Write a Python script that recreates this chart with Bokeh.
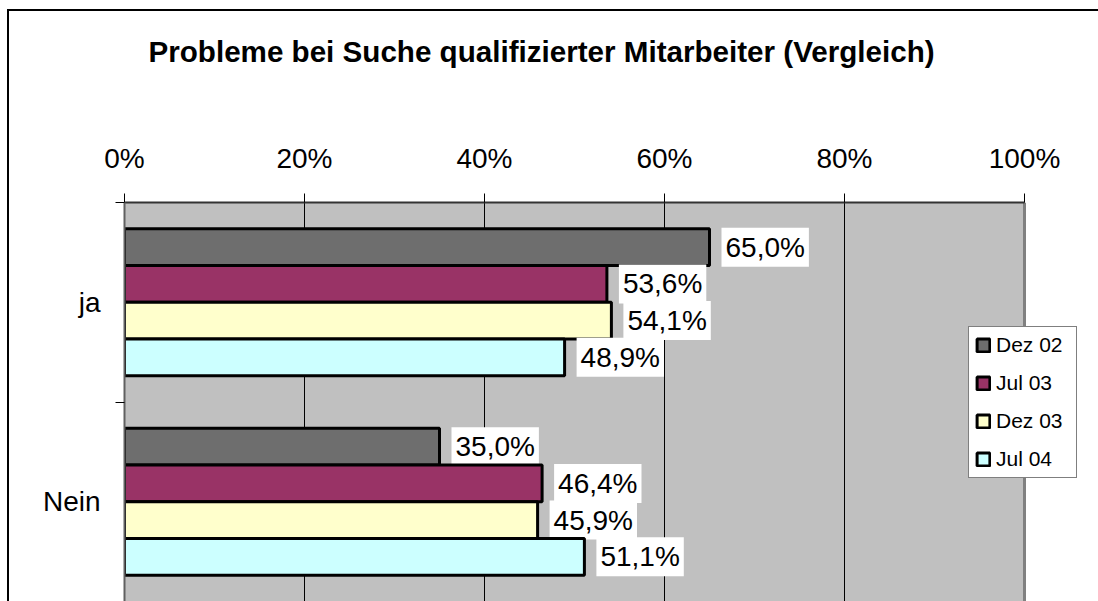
from bokeh.plotting import figure
from bokeh.models import (Range1d, FixedTicker, NumeralTickFormatter, Legend,
                          LegendItem, BoxAnnotation, Span)
from bokeh.core.properties import value
from bokeh.embed import file_html
from bokeh.resources import INLINE

# ---- data ----
categories = ["ja", "Nein"]
series = ["Dez 02", "Jul 03", "Dez 03", "Jul 04"]
dez02 = [65.0, 35.0]
jul03 = [53.6, 46.4]
dez03 = [54.1, 45.9]
jul04 = [48.9, 51.1]
values_by_series = [dez02, jul03, dez03, jul04]
colors = ["#6E6E6E", "#993366", "#FFFFCC", "#CCFFFF"]
x_ticks = [0, 20, 40, 60, 80, 100]
title_text = "Probleme bei Suche qualifizierter Mitarbeiter (Vergleich)"

FONT = "Liberation Sans"
BAR_H = 0.184
W, H = 1098, 601
LEFT, TOP = 124, 202

p = figure(width=W, height=H, output_backend="svg", toolbar_location=None,
           x_range=Range1d(0, (W - LEFT) / 900), y_range=Range1d((H - TOP) / 199.5, 0),
           x_axis_location="above",
           min_border_left=LEFT, min_border_right=0,
           min_border_top=TOP, min_border_bottom=0)
# outer chart-area frame (left and top edges) drawn as CSS background
p.styles = {"background": "linear-gradient(#000000, #000000) 7px 9px / 2px 100% no-repeat, "
                          "linear-gradient(#000000, #000000) 7px 9px / 100% 2px no-repeat, "
                          "#FFFFFF"}

p.background_fill_color = "white"
p.border_fill_color = "white"
p.border_fill_alpha = 0
p.outline_line_color = None

# plot area background (0..100 %)
p.add_layout(BoxAnnotation(left=0, right=1, fill_color="#C0C0C0", fill_alpha=1,
                           line_color=None, level="image"))
p.add_layout(Span(location=1, dimension="height", line_color="#808080",
                  line_width=3, level="underlay"))

# title
p.title.text = title_text
p.title.text_font = FONT
p.title.text_font_size = "29.6px"
p.title.text_font_style = "bold"
p.title.text_color = "black"
p.title.align = "left"
p.title.offset = 24
p.title.standoff = 10

# x axis (top)
xt = FixedTicker(ticks=[t / 100 for t in x_ticks])
xax = p.xaxis[0]
xax.ticker = xt
xax.bounds = (0, 1)
xax.formatter = NumeralTickFormatter(format="0%")
xax.major_label_text_font = FONT
xax.major_label_text_font_size = "28px"
xax.major_label_text_color = "black"
xax.major_tick_out = 9
xax.major_tick_in = 0
xax.minor_tick_line_color = None
xax.major_tick_line_color = "black"
xax.axis_line_color = "#333333"
xax.axis_line_width = 2
xax.major_label_standoff = 20
# blank axis label used only as vertical spacing between tick labels and title
xax.axis_label = " "
xax.axis_label_text_font_size = "10px"
xax.axis_label_standoff = 53

p.xgrid.ticker = xt
p.xgrid.grid_line_color = "black"
p.xgrid.grid_line_width = 1
p.xgrid.level = "underlay"
p.ygrid.visible = False

# y axis (left)
yt = FixedTicker(ticks=[i + 0.5 for i in range(len(categories))],
                 minor_ticks=[i for i in range(len(categories) + 1)])
yax = p.yaxis[0]
yax.ticker = yt
yax.major_label_overrides = {i + 0.5: c for i, c in enumerate(categories)}
yax.major_tick_out = 0
yax.major_tick_in = 0
yax.minor_tick_out = 9
yax.minor_tick_in = 0
yax.minor_tick_line_color = "black"
yax.axis_line_color = "#606060"
yax.axis_line_width = 2
yax.major_label_text_font = FONT
yax.major_label_text_font_size = "28px"
yax.major_label_text_color = "black"
yax.major_label_standoff = 15

items = []
for j, (name, vals, col) in enumerate(zip(series, values_by_series, colors)):
    ys = [i + 0.5 + (j - 1.5) * BAR_H for i in range(len(categories))]
    xs = [v / 100 for v in vals]
    r = p.hbar(y=ys, left=0, right=xs, height=BAR_H, fill_color=col,
               line_color="black", line_width=3)
    items.append(LegendItem(label=name, renderers=[r]))
    labels = [("%.1f" % v).replace(".", ",") + "%" for v in vals]
    p.text(x=xs, y=ys, text=labels, x_offset=12, text_align="left",
           text_baseline="middle", text_font=value(FONT), text_font_size="28px",
           text_color="black", background_fill_color="white", padding=4)

legend = Legend(items=items, location=(844, 123), border_line_color="black",
                border_line_width=1, background_fill_color="white",
                background_fill_alpha=1, label_text_font=FONT,
                label_text_font_size="21px", label_text_color="black",
                glyph_width=16, glyph_height=16,
                label_height=16, spacing=14, padding=6, margin=0,
                label_standoff=5, label_width=74)
p.add_layout(legend)

open("out.html", "w").write(file_html(p, INLINE))
